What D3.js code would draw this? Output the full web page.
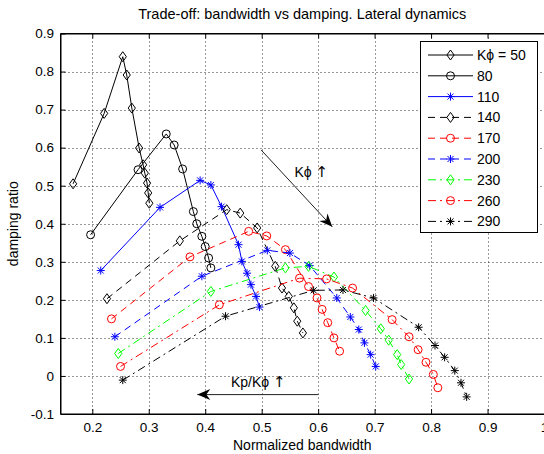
<!DOCTYPE html>
<html>
<head>
<meta charset="utf-8">
<script src="https://cdn.jsdelivr.net/npm/d3@7"></script>
<style>
body { margin: 0; background: #fff; }
svg { display: block; font-family: "Liberation Sans", Arial, sans-serif; }
</style>
</head>
<body>
<svg id="chart" width="544" height="454"></svg>
<script>
// gain values, one curve per K-phi
const kphi = [50, 80, 110, 140, 170, 200, 230, 260, 290];
const legendLabels = ["K\u03d5 = 50", "80", "110", "140", "170", "200", "230", "260", "290"];

// normalized bandwidth (x) of each point, per curve
const bandwidth = [
    [0.166, 0.221, 0.254, 0.261, 0.270, 0.283, 0.290, 0.293, 0.297, 0.299, 0.301],
    [0.197, 0.281, 0.331, 0.345, 0.360, 0.379, 0.385, 0.394, 0.400, 0.406, 0.410],
    [0.215, 0.320, 0.391, 0.410, 0.429, 0.459, 0.465, 0.474, 0.481, 0.490, 0.496],
    [0.226, 0.355, 0.438, 0.462, 0.492, 0.524, 0.536, 0.548, 0.557, 0.563, 0.573],
    [0.234, 0.373, 0.477, 0.509, 0.542, 0.583, 0.598, 0.607, 0.617, 0.628, 0.638],
    [0.240, 0.394, 0.510, 0.550, 0.585, 0.633, 0.657, 0.672, 0.682, 0.693, 0.702],
    [0.246, 0.410, 0.542, 0.583, 0.628, 0.684, 0.711, 0.725, 0.740, 0.747, 0.761],
    [0.250, 0.425, 0.567, 0.615, 0.661, 0.731, 0.761, 0.777, 0.791, 0.804, 0.812],
    [0.254, 0.436, 0.592, 0.644, 0.698, 0.778, 0.807, 0.824, 0.842, 0.853, 0.863]
];

// damping ratio (y) of each point, per curve
const damping = [
    [0.505, 0.690, 0.839, 0.791, 0.704, 0.599, 0.555, 0.533, 0.507, 0.481, 0.454],
    [0.371, 0.542, 0.636, 0.607, 0.544, 0.432, 0.400, 0.367, 0.340, 0.310, 0.284],
    [0.277, 0.443, 0.514, 0.502, 0.445, 0.345, 0.301, 0.270, 0.240, 0.209, 0.181],
    [0.203, 0.355, 0.437, 0.428, 0.389, 0.288, 0.231, 0.209, 0.179, 0.144, 0.113],
    [0.150, 0.313, 0.380, 0.368, 0.332, 0.235, 0.205, 0.175, 0.140, 0.100, 0.065],
    [0.103, 0.262, 0.330, 0.323, 0.290, 0.205, 0.155, 0.122, 0.087, 0.056, 0.025],
    [0.059, 0.222, 0.284, 0.288, 0.260, 0.172, 0.124, 0.094, 0.056, 0.030, -0.008],
    [0.025, 0.187, 0.257, 0.255, 0.231, 0.148, 0.103, 0.069, 0.036, 0.004, -0.031],
    [-0.011, 0.157, 0.225, 0.226, 0.205, 0.128, 0.080, 0.049, 0.014, -0.018, -0.055]
];

const xTicks = [0.2, 0.3, 0.4, 0.5, 0.6, 0.7, 0.8, 0.9, 1];
const xTickLabels = ["0.2", "0.3", "0.4", "0.5", "0.6", "0.7", "0.8", "0.9", "1"];
const yTicks = [-0.1, 0, 0.1, 0.2, 0.3, 0.4, 0.5, 0.6, 0.7, 0.8, 0.9];
const yTickLabels = ["-0.1", "0", "0.1", "0.2", "0.3", "0.4", "0.5", "0.6", "0.7", "0.8", "0.9"];

// line styles (matlab-ish: -kd, -ko, -b*, --kd, --ro, --b*, -.gd, -.ro, -.k*)
const colors = ["#000", "#000", "#0000ff", "#000", "#ff0000", "#0000ff", "#00ff00", "#ff0000", "#000"];
const dashes = [null, null, null, "7,5", "7,5", "7,5", "8,4,2,4", "8,4,2,4", "8,4,2,4"];
const markers = ["d", "o", "*", "d", "o", "*", "d", "o", "*"];

const svg = d3.select("#chart");
const W = 544, H = 454;
const plot = {left: 60.5, right: 544, top: 33.5, bottom: 414};

const x = d3.scaleLinear().domain([0.1437, 1]).range([plot.left, plot.right]);
const y = d3.scaleLinear().domain([-0.1, 0.9]).range([plot.bottom, plot.top]);

svg.append("rect").attr("width", W).attr("height", H).attr("fill", "#fff");

// dotted grid
const grid = svg.append("g")
    .attr("stroke", "#333")
    .attr("stroke-width", 1)
    .attr("stroke-dasharray", "1,3");
grid.selectAll(".vg")
    .data(xTicks.filter(d => d < 1))
    .join("line")
    .attr("x1", d => Math.round(x(d)) + 0.5)
    .attr("x2", d => Math.round(x(d)) + 0.5)
    .attr("y1", plot.top)
    .attr("y2", plot.bottom);
grid.selectAll(".hg")
    .data(yTicks.filter(d => d > -0.1 && d < 0.9))
    .join("line")
    .attr("y1", d => Math.round(y(d)) + 0.5)
    .attr("y2", d => Math.round(y(d)) + 0.5)
    .attr("x1", plot.left)
    .attr("x2", plot.right);

// axes, ticks pointing inward
const xAxis = svg.append("g")
    .attr("transform", `translate(0, ${plot.bottom})`)
    .call(d3.axisBottom(x).tickValues(xTicks).tickSize(-5).tickSizeOuter(0).tickPadding(8.5)
        .tickFormat((d, i) => xTickLabels[i]));
const xTop = svg.append("g")
    .attr("transform", `translate(0, ${plot.top})`)
    .call(d3.axisTop(x).tickValues(xTicks).tickSize(-5).tickSizeOuter(0).tickFormat(""));
const yAxis = svg.append("g")
    .attr("transform", `translate(${plot.left}, 0)`)
    .call(d3.axisLeft(y).tickValues(yTicks).tickSize(-5).tickSizeOuter(0).tickPadding(6.5)
        .tickFormat((d, i) => yTickLabels[i]));

[xAxis, xTop, yAxis].forEach(a => {
    a.select(".domain").attr("stroke", "#000");
    a.selectAll(".tick line").attr("stroke", "#000");
    a.selectAll("text")
        .attr("font-size", "13.5px")
        .attr("font-family", "Liberation Sans, Arial, sans-serif")
        .attr("fill", "#000");
});

function markerPath(type) {
    if (type === "d") return "M0,-5L3.6,0L0,5L-3.6,0Z";
    if (type === "*") return "M-4,0L4,0M0,-4L0,4M-3,-3L3,3M-3,3L3,-3";
    return d3.symbol(d3.symbolCircle, 50)();
}

const line = d3.line().x(d => x(d[0])).y(d => y(d[1]));

const curves = svg.append("g");
kphi.forEach((k, s) => {
    const pts = bandwidth[s].map((b, i) => [b, damping[s][i]]);
    const g = curves.append("g");
    g.append("path")
        .datum(pts)
        .attr("d", line)
        .attr("fill", "none")
        .attr("stroke", colors[s])
        .attr("stroke-width", 1)
        .attr("stroke-dasharray", dashes[s]);
    g.selectAll("path.mk")
        .data(pts)
        .join("path")
        .attr("class", "mk")
        .attr("transform", d => `translate(${x(d[0])}, ${y(d[1])})`)
        .attr("d", markerPath(markers[s]))
        .attr("fill", "none")
        .attr("stroke", colors[s])
        .attr("stroke-width", 1);
});

// annotation arrows
function arrow(x0, y0, x1, y1) {
    const px0 = x(x0), py0 = y(y0), px1 = x(x1), py1 = y(y1);
    const ang = Math.atan2(py1 - py0, px1 - px0) * 180 / Math.PI;
    svg.append("line")
        .attr("x1", px0).attr("y1", py0)
        .attr("x2", px1).attr("y2", py1)
        .attr("stroke", "#222")
        .attr("stroke-width", 1);
    svg.append("path")
        .attr("d", "M0,0L-13,-5.5L-9,0L-13,5.5Z")
        .attr("transform", `translate(${px1}, ${py1}) rotate(${ang})`)
        .attr("fill", "#000");
}
arrow(0.499, 0.594, 0.625, 0.392);
arrow(0.6005, -0.049, 0.386, -0.049);

function upLabel(txt, xv, yv) {
    const t = svg.append("text")
        .attr("x", x(xv)).attr("y", y(yv) + 5)
        .attr("text-anchor", "middle")
        .attr("font-size", "14px");
    t.append("tspan").text(txt + " ");
    t.append("tspan")
        .attr("font-family", "DejaVu Sans")
        .attr("font-size", "15px")
        .text("\u2191");
}
upLabel("K\u03d5", 0.588, 0.537);
upLabel("Kp/K\u03d5", 0.494, -0.015);

// frame (top, left, bottom)
svg.append("path")
    .attr("d", `M${plot.right},${plot.top}H${plot.left}V${plot.bottom}H${plot.right}`)
    .attr("fill", "none")
    .attr("stroke", "#000");

// titles
svg.append("text")
    .attr("x", (plot.left + plot.right) / 2).attr("y", 18.5)
    .attr("text-anchor", "middle")
    .attr("font-size", "14.5px")
    .text("Trade-off: bandwidth vs damping. Lateral dynamics");
svg.append("text")
    .attr("x", (plot.left + plot.right) / 2).attr("y", 450)
    .attr("text-anchor", "middle")
    .attr("font-size", "14px")
    .text("Normalized bandwidth");
svg.append("text")
    .attr("transform", `translate(18, ${(plot.top + plot.bottom) / 2}) rotate(-90)`)
    .attr("text-anchor", "middle")
    .attr("font-size", "14px")
    .text("damping ratio");

// legend
const legend = svg.append("g");
legend.append("rect")
    .attr("x", 420.5).attr("y", 41.5)
    .attr("width", 117).attr("height", 191)
    .attr("fill", "#fff")
    .attr("stroke", "#000");
kphi.forEach((k, s) => {
    const ry = 55 + s * 20.8;
    const row = legend.append("g").attr("transform", `translate(0, ${ry})`);
    row.append("line")
        .attr("x1", 428).attr("x2", 473)
        .attr("stroke", colors[s])
        .attr("stroke-dasharray", dashes[s]);
    row.append("path")
        .attr("transform", "translate(450.5, 0)")
        .attr("d", markerPath(markers[s]))
        .attr("fill", "none")
        .attr("stroke", colors[s]);
    row.append("text")
        .attr("x", 477).attr("y", 5)
        .attr("font-size", "14px")
        .text(legendLabels[s]);
});
</script>
</body>
</html>
